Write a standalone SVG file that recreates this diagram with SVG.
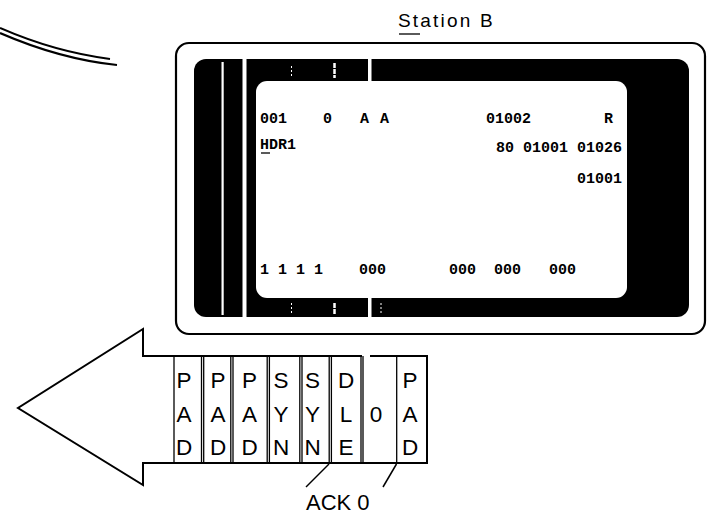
<svg xmlns="http://www.w3.org/2000/svg" width="709" height="516" viewBox="0 0 709 516">
<style>
.scr{font-family:"Liberation Mono","DejaVu Sans Mono",monospace;font-size:15px;font-weight:bold;fill:#000}
.cell{font-family:"Liberation Sans",Arial,sans-serif;font-size:22.5px;fill:#000;text-anchor:middle}
.lbl{font-family:"Liberation Sans",Arial,sans-serif;fill:#000}
.ln{stroke:#000;fill:none}
.wh{fill:#fff}
</style>
<rect width="709" height="516" fill="#fff"/>

<g id="cable">
<path class="ln" stroke-width="2" d="M0,28 Q55,52 110,59"/>
<path class="ln" stroke-width="2.2" d="M0,33 Q60,59 117,65"/>
</g>

<g id="station-b-label">
<text class="lbl" x="398" y="27" font-size="19" letter-spacing="2.2">Station B</text>
<line class="ln" stroke-width="1.3" x1="399" y1="34" x2="420" y2="34"/>
</g>

<g id="station-b">
<rect class="ln" x="176" y="43" width="529" height="291" rx="13" stroke-width="2.2"/>
<rect x="194" y="59" width="495" height="258" rx="12" fill="#000"/>
<rect class="wh" x="256" y="81" width="371" height="217" rx="11"/>
<rect class="wh" x="221.5" y="62" width="2.2" height="253"/>
<rect class="wh" x="242.5" y="59" width="4" height="258"/>
<rect class="wh" x="368" y="59" width="3.5" height="23"/>
<rect class="wh" x="368" y="297" width="3.5" height="20"/>
<line stroke="#fff" stroke-width="1" stroke-dasharray="2 2" x1="291.5" y1="66" x2="291.5" y2="78"/>
<line stroke="#fff" stroke-width="2.5" stroke-dasharray="5 1" x1="334.5" y1="63" x2="334.5" y2="78"/>
<line stroke="#fff" stroke-width="1" stroke-dasharray="2 2" x1="291.5" y1="303" x2="291.5" y2="315"/>
<line stroke="#fff" stroke-width="2.5" stroke-dasharray="5 1" x1="334.5" y1="303" x2="334.5" y2="315"/>
<line stroke="#fff" stroke-width="1" stroke-dasharray="2 2" x1="381" y1="303" x2="381" y2="315"/>
<text class="scr" x="260" y="123">001</text>
<text class="scr" x="323" y="123">0</text>
<text class="scr" x="360" y="123">A</text>
<text class="scr" x="380" y="123">A</text>
<text class="scr" x="486" y="123">01002</text>
<text class="scr" x="604" y="123">R</text>
<text class="scr" x="260" y="149">HDR1</text>
<line class="ln" stroke-width="1.3" x1="261" y1="153" x2="270" y2="153"/>
<text class="scr" x="622" y="152" text-anchor="end">80 01001 01026</text>
<text class="scr" x="622" y="183" text-anchor="end">01001</text>
<text class="scr" x="260" y="274">1 1 1 1</text>
<text class="scr" x="359" y="274">000</text>
<text class="scr" x="449" y="274">000</text>
<text class="scr" x="494" y="274">000</text>
<text class="scr" x="549" y="274">000</text>
</g>

<g id="arrow">
<path class="ln" stroke-width="2" stroke-linejoin="miter" d="M370,356 L427,356 L427,463 L143,463 L143,485 L18,408 L143,329 L143,356 L362,356"/>
</g>

<g id="cells" class="ln" stroke-width="1.3">
<line x1="174" y1="356" x2="174" y2="463"/>
<line x1="201.5" y1="356" x2="201.5" y2="463"/>
<line x1="203.7" y1="356" x2="203.7" y2="463"/>
<line x1="230.8" y1="356" x2="230.8" y2="463"/>
<line x1="233" y1="356" x2="233" y2="463"/>
<line x1="267.2" y1="356" x2="267.2" y2="463"/>
<line x1="269.4" y1="356" x2="269.4" y2="463"/>
<line x1="299.8" y1="356" x2="299.8" y2="463"/>
<line x1="302" y1="356" x2="302" y2="463"/>
<line x1="329.2" y1="356" x2="329.2" y2="463"/>
<line x1="331.4" y1="356" x2="331.4" y2="463"/>
<line x1="361" y1="356" x2="361" y2="463"/>
<line x1="363" y1="356" x2="363" y2="463"/>
<line x1="396.7" y1="356" x2="396.7" y2="463"/>
</g>

<g id="cell-text">
<text class="cell" x="184" y="388">P</text><text class="cell" x="184" y="422">A</text><text class="cell" x="184" y="455">D</text>
<text class="cell" x="218" y="388">P</text><text class="cell" x="218" y="422">A</text><text class="cell" x="218" y="455">D</text>
<text class="cell" x="249.5" y="388">P</text><text class="cell" x="249.5" y="422">A</text><text class="cell" x="249.5" y="455">D</text>
<text class="cell" x="281" y="388">S</text><text class="cell" x="281" y="422">Y</text><text class="cell" x="281" y="455">N</text>
<text class="cell" x="312.5" y="388">S</text><text class="cell" x="312.5" y="422">Y</text><text class="cell" x="312.5" y="455">N</text>
<text class="cell" x="346" y="388">D</text><text class="cell" x="346" y="422">L</text><text class="cell" x="346" y="455">E</text>
<text class="cell" x="376" y="422">0</text>
<text class="cell" x="410" y="388">P</text><text class="cell" x="410" y="422">A</text><text class="cell" x="410" y="455">D</text>
</g>

<g id="connectors" class="ln" stroke-width="1.5">
<line x1="329" y1="464" x2="306" y2="487"/>
<line x1="396.5" y1="464" x2="383" y2="487"/>
</g>

<g id="ack0-label">
<text class="lbl" x="306" y="510" font-size="22">ACK 0</text>
</g>
</svg>
